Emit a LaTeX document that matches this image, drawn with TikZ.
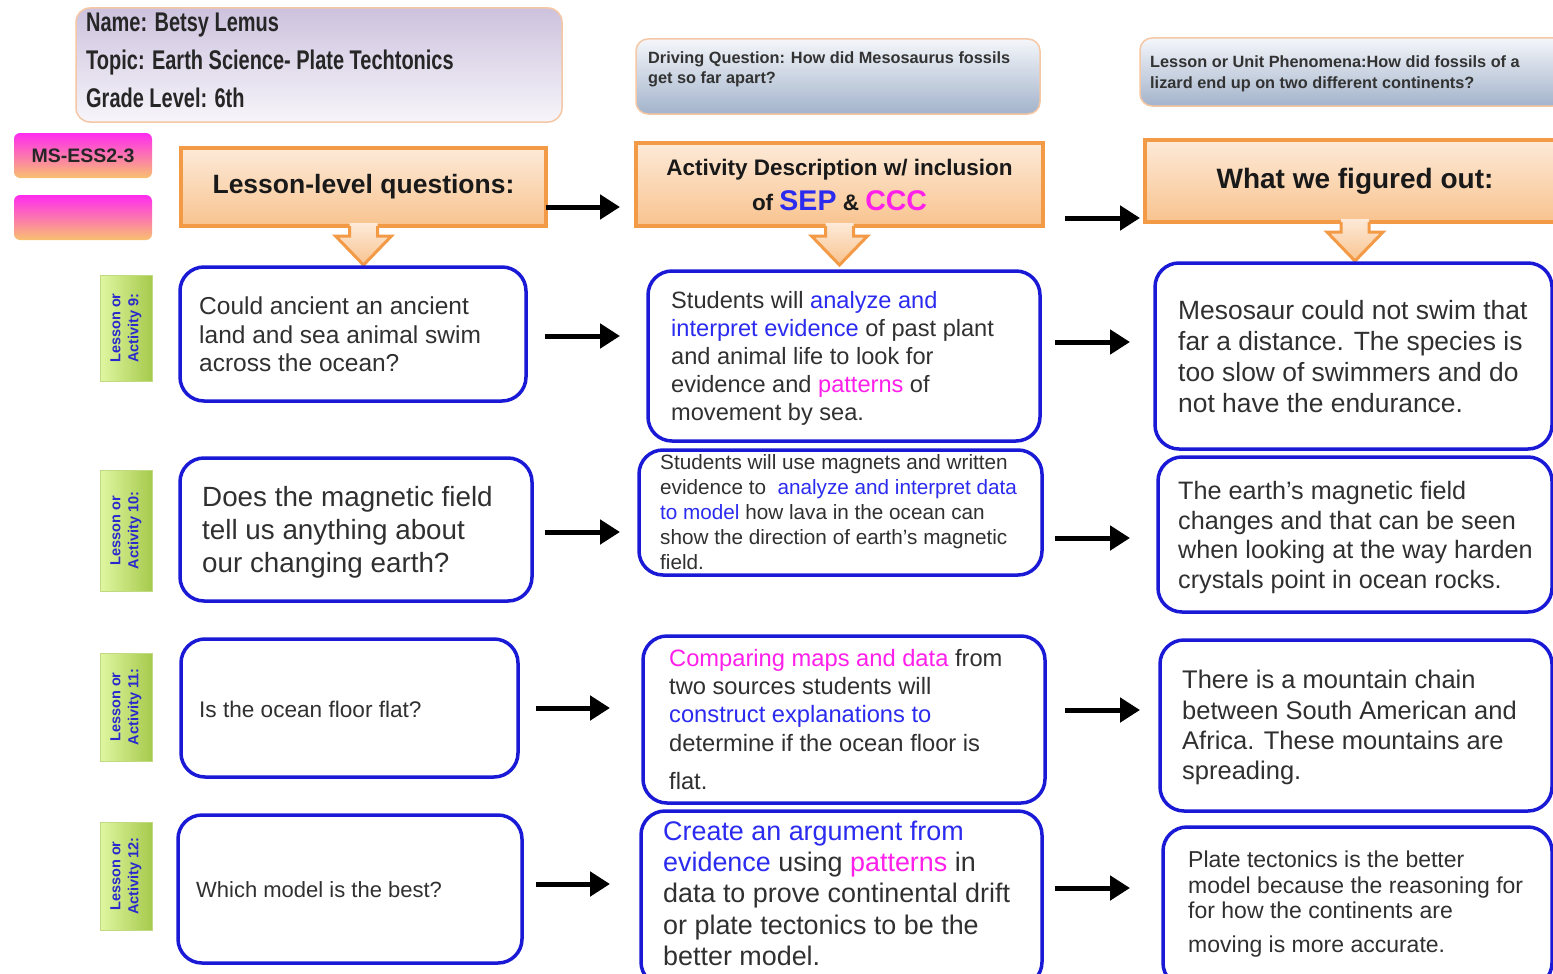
\documentclass[tikz,border=0pt]{standalone}
\usepackage{fontspec}
\setmainfont{Liberation Sans}
\newfontfamily\namefont{Liberation Sans}[FakeStretch=0.74]
\usetikzlibrary{arrows.meta,calc}

\definecolor{boxblue}{HTML}{1A1AD6}
\definecolor{sepblue}{HTML}{2B2BF0}
\definecolor{cccpink}{HTML}{FF1FEA}
\definecolor{headorange}{HTML}{F39A47}
\definecolor{headtop}{HTML}{FDEAD8}
\definecolor{headbot}{HTML}{F8C38F}
\definecolor{inktext}{HTML}{303030}
\definecolor{lavtop}{HTML}{CDC2DE}
\definecolor{lavbot}{HTML}{F7F5FA}
\definecolor{peachline}{HTML}{F5C7A4}
\definecolor{steeltop}{HTML}{F4F6FA}
\definecolor{steelbot}{HTML}{A3B3CB}
\definecolor{magtop}{HTML}{FF2BEF}
\definecolor{magbot}{HTML}{F8C16F}
\definecolor{limeleft}{HTML}{E0F7A2}
\definecolor{limeright}{HTML}{A6CA4C}
\definecolor{labelblue}{HTML}{2A2ACC}

\newcommand\setfs[2]{\fontsize{#1}{#2}\selectfont}
\newcommand\blu[1]{{\color{sepblue}#1}}
\newcommand\pnk[1]{{\color{cccpink}#1}}

% orange block arrow hanging below a header box
\newcommand\headarrow[1]{%
  \path[top color=headtop, bottom color=headbot]
    ($(#1.south)+(-14,-3)$) -- ($(#1.south)+(-14,10)$) -- ($(#1.south)+(-28,10)$)
    -- ($(#1.south)+(0,39)$) -- ($(#1.south)+(28,10)$) -- ($(#1.south)+(14,10)$)
    -- ($(#1.south)+(14,-3)$) -- cycle;
  \draw[headorange, line width=3pt, line join=miter]
    ($(#1.south)+(-14,0)$) -- ($(#1.south)+(-14,10)$) -- ($(#1.south)+(-28,10)$)
    -- ($(#1.south)+(0,39)$) -- ($(#1.south)+(28,10)$) -- ($(#1.south)+(14,10)$)
    -- ($(#1.south)+(14,0)$);}

\tikzset{
  card/.style={draw=boxblue, line width=3.5pt, rounded corners=24pt, fill=white,
    inner sep=0pt, outer sep=0pt, anchor=north west},
  header/.style={draw=headorange, line width=4pt, top color=headtop, bottom color=headbot,
    inner sep=0pt, outer sep=0pt, anchor=north west, text=black!90, align=center},
  infobox/.style={draw=peachline, line width=1.5pt, rounded corners=14pt,
    inner sep=0pt, outer sep=0pt, anchor=north west},
  tagbox/.style={rounded corners=6pt, top color=magtop, bottom color=magbot,
    inner sep=0pt, outer sep=0pt, anchor=north west},
  lessonbox/.style={left color=limeleft, right color=limeright, draw=limeright!70!white,
    line width=0.8pt, inner sep=0pt, outer sep=0pt, anchor=north west,
    minimum width=52pt},
  lessontext/.style={rotate=90, align=center, text=labelblue,
    font=\setfs{14.5}{18}\bfseries},
  body/.style={anchor=north west, align=left, inner sep=0pt, text=inktext},
  conn/.style={line width=5pt, -{Triangle[length=20pt,width=24pt]}},
}

\begin{document}
\begin{tikzpicture}[x=1pt,y=-1pt]
\clip (0,0) rectangle (1553,974);
\fill[white] (0,0) rectangle (1553,974);

% ---- information boxes ----
\node[infobox, top color=lavtop, bottom color=lavbot, minimum width=486pt, minimum height=114pt] (name) at (76,8) {};
\node[body, text=black!85, font=\namefont\bfseries\setfs{27}{38}] (namet) at (86,12.7)
  {Name: Betsy Lemus\\Topic: Earth Science- Plate Techtonics\\Grade Level: 6th};

\node[infobox, top color=steeltop, bottom color=steelbot, rounded corners=12pt, minimum width=404pt, minimum height=75pt] (dq) at (636,39) {};
\node[body, text=black!80, font=\setfs{16.3}{20}\bfseries] (dqt) at (648,51.2)
  {Driving Question: How did Mesosaurus fossils\\get so far apart?};

\node[infobox, top color=steeltop, bottom color=steelbot, rounded corners=12pt, minimum width=425pt, minimum height=68pt] (ph) at (1140,38) {};
\node[body, text=black!80, font=\setfs{16.3}{21}\bfseries] (pht) at (1150,55.2)
  {Lesson or Unit Phenomena:How did fossils of a\\lizard end up on two different continents?};

\node[tagbox, minimum width=138pt, minimum height=45pt, font=\setfs{19.5}{22}\bfseries, text=black!85] (tag1) at (14,133) {MS-ESS2-3};
\node[tagbox, minimum width=138pt, minimum height=45pt] (tag2) at (14,195) {};

% ---- column headers ----
\node[header, minimum width=365pt, minimum height=78pt, font=\setfs{26.5}{30}\bfseries] (h1) at (181,148) {Lesson-level questions:};
\node[header, minimum width=407pt, minimum height=83pt, font=\setfs{22.5}{35}\bfseries] (h2) at (636,143)
  {Activity Description w/ inclusion\\of {\setfs{28.5}{35}\color{sepblue}SEP} \& {\setfs{28.5}{35}\color{cccpink}CCC}};
\node[header, minimum width=420pt, minimum height=82pt, font=\setfs{28}{32}\bfseries] (h3) at (1145,140) {What we figured out:};
\headarrow{h1}
\headarrow{h2}
\headarrow{h3}

% ---- lesson tags ----
\node[lessonbox, minimum height=106pt] (lab1) at (100,275) {};
\node[lessontext] (lab1t) at (lab1.center) {Lesson or\\Activity 9:};
\node[lessonbox, minimum height=121pt] (lab2) at (100,470) {};
\node[lessontext] (lab2t) at (lab2.center) {Lesson or\\Activity 10:};
\node[lessonbox, minimum height=108pt] (lab3) at (100,653) {};
\node[lessontext] (lab3t) at (lab3.center) {Lesson or\\Activity 11:};
\node[lessonbox, minimum height=108pt] (lab4) at (100,822) {};
\node[lessontext] (lab4t) at (lab4.center) {Lesson or\\Activity 12:};

% ---- question cards ----
\node[card, minimum width=346pt, minimum height=134pt] (q1) at (180,267) {};
\node[card, minimum width=352pt, minimum height=143pt] (q2) at (180,458) {};
\node[card, minimum width=337pt, minimum height=138pt] (q3) at (181,639) {};
\node[card, minimum width=344pt, minimum height=148pt] (q4) at (178,815) {};

\node[body, font=\setfs{24.5}{28.5}] (q1t) at (199,296.7)
  {Could ancient an ancient\\land and sea animal swim\\across the ocean?};
\node[body, font=\setfs{27.8}{33}] (q2t) at (202,486.3)
  {Does the magnetic field\\tell us anything about\\our changing earth?};
\node[body, anchor=west, font=\setfs{22.6}{26}] (q3t) at (199,709) {Is the ocean floor flat?};
\node[body, anchor=west, font=\setfs{22}{26}] (q4t) at (196,890) {Which model is the best?};

% ---- activity cards ----
\node[card, minimum width=392pt, minimum height=170pt] (d1) at (648,271) {};
\node[card, minimum width=403pt, minimum height=125pt] (d2) at (639,450) {};
\node[card, minimum width=402pt, minimum height=167pt] (d3) at (643,636) {};
\node[card, minimum width=401pt, minimum height=175pt] (d4) at (641,811) {};

\node[body, font=\setfs{23.6}{28}] (d1t) at (671,291.1)
  {Students will \blu{analyze and}\\\blu{interpret evidence} of past plant\\and animal life to look for\\evidence and \pnk{patterns} of\\movement by sea.};
\node[body, font=\setfs{20.7}{25}] (d2t) at (660,454.3)
  {Students will use magnets and written\\evidence to\ \ \blu{analyze and interpret data}\\\blu{to model} how lava in the ocean can\\show the direction of earth’s magnetic\\field.};
\node[body, font=\setfs{23.7}{28.3}] (d3t) at (669,649)
  {\pnk{Comparing maps and data} from\\two sources students will\\\blu{construct explanations to}\\determine if the ocean floor is\\[9.7pt]flat.};
\node[body, font=\setfs{26.9}{31.3}] (d4t) at (663,820.7)
  {\blu{Create an argument from}\\\blu{evidence} using \pnk{patterns} in\\data to prove continental drift\\or plate tectonics to be the\\better model.};

% ---- findings cards (run off the right edge) ----
\node[card, minimum width=397pt, minimum height=186pt] (f1) at (1155,263) {};
\node[card, minimum width=394pt, minimum height=155pt] (f2) at (1158,457) {};
\node[card, minimum width=392pt, minimum height=171pt] (f3) at (1160,640) {};
\node[card, minimum width=389pt, minimum height=160pt] (f4) at (1163,827) {};

\node[body, font=\setfs{26.4}{31}] (f1t) at (1178,300)
  {Mesosaur could not swim that\\far a distance. The species is\\too slow of swimmers and do\\not have the endurance.};
\node[body, font=\setfs{25.2}{29.5}] (f2t) at (1178,481.4)
  {The earth’s magnetic field\\changes and that can be seen\\when looking at the way harden\\crystals point in ocean rocks.};
\node[body, font=\setfs{25.5}{30.3}] (f3t) at (1182,670.3)
  {There is a mountain chain\\between South American and\\Africa. These mountains are\\spreading.};
\node[body, font=\setfs{23}{25.5}] (f4t) at (1188,850.8)
  {Plate tectonics is the better\\model because the reasoning for\\for how the continents are\\[8.5pt]moving is more accurate.};

% ---- connectors ----
\draw[conn] ($(h1.east)+(0,20)$) -- ($(h2.west |- h1.east)+(-16,20)$);
\draw[conn] ($(h2.east)+(22,33.5)$) -- ($(h3.west |- h2.east)+(-5,33.5)$);

\draw[conn] ($(q1.east)+(19,2)$) -- ($(d1.west |- q1.east)+(-28,2)$);
\draw[conn] ($(d1.east)+(15,-14)$) -- ($(f1.west |- d1.east)+(-25,-14)$);
\draw[conn] ($(q2.east)+(13,2.5)$) -- ($(d2.west |- q2.east)+(-19,2.5)$);
\draw[conn] ($(d2.east)+(13,25.5)$) -- ($(f2.west |- d2.east)+(-28,25.5)$);
\draw[conn] ($(q3.east)+(18,0)$) -- ($(d3.west |- q3.east)+(-33,0)$);
\draw[conn] ($(d3.east)+(20,-9.5)$) -- ($(f3.west |- d3.east)+(-20,-9.5)$);
\draw[conn] ($(q4.east)+(14,-5)$) -- ($(d4.west |- q4.east)+(-31,-5)$);
\draw[conn] ($(d4.east)+(13,-10.5)$) -- ($(f4.west |- d4.east)+(-33,-10.5)$);
\end{tikzpicture}
\end{document}
